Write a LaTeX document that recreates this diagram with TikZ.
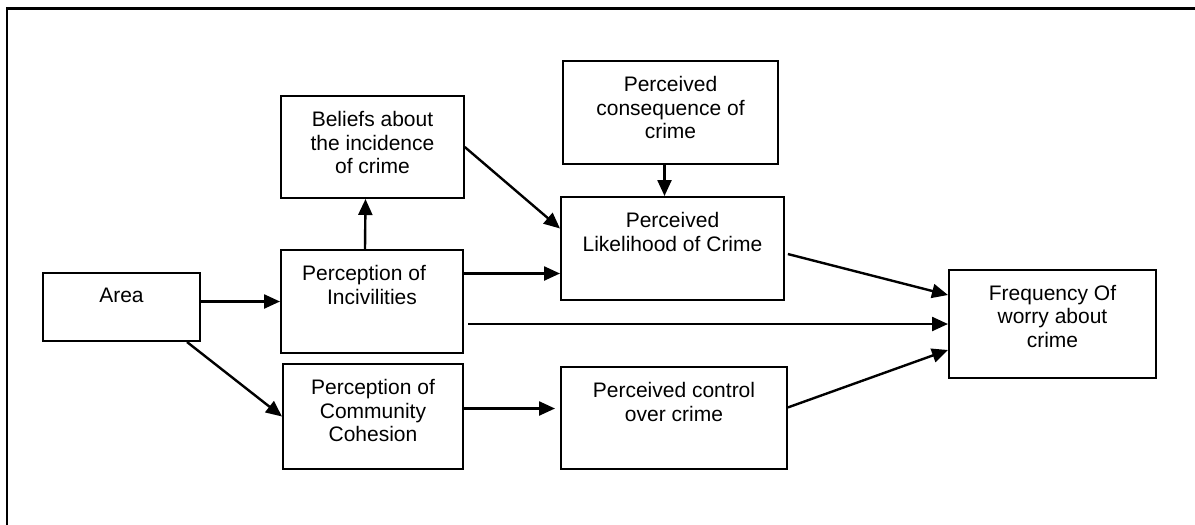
\documentclass[tikz,border=0pt]{standalone}
\usepackage{fontspec}
\setmainfont{Liberation Sans}
\usetikzlibrary{arrows.meta,positioning}

\begin{document}
\begin{tikzpicture}[x=0.5pt, y=-0.5pt,
  box/.style={draw, line width=1pt, inner sep=0pt},
  txt/.style={align=center, inner sep=0pt, font=\fontsize{10.5}{11.7}\selectfont},
  arr/.style={line width=1.2pt, -{Triangle[length=8pt,width=7pt]}}]
\useasboundingbox (0,0) rectangle (1195,525);

% Frame
\draw[line width=1.2pt] (6.7,525) -- (6.7,8.5) -- (1195,8.5);

% Boxes
\node[box, minimum width=78.5pt, minimum height=34pt] (area) at (121.5,307) {};
\node[box, minimum width=91pt, minimum height=51.5pt] (inc) at (372,301.5) {};
\node[box, minimum width=90pt, minimum height=52.5pt] (coh) at (373,416.5) {};
\node[box, minimum width=91.25pt, minimum height=51pt] (bel) at (372.5,147) {};
\node[box, minimum width=107.5pt, minimum height=51.5pt] (cons) at (670.5,112.5) {};
\node[box, minimum width=111.5pt, minimum height=51.5pt] (like) at (672.5,248.5) {};
\node[box, minimum width=113pt, minimum height=51pt] (ctrl) at (674,418) {};
\node[box, minimum width=103.5pt, minimum height=54.25pt] (freq) at (1052.5,324) {};

% Box texts
\node[txt, below=8pt of area.north] (areaT) {Area};
\node[txt, below=8pt of inc.north] (incT) {Perception of\hspace*{8pt}\\Incivilities};
\node[txt, below=8pt of coh.north] (cohT) {Perception of\\Community\\Cohesion};
\node[txt, below=8pt of bel.north] (belT) {Beliefs about\\the incidence\\of crime};
\node[txt, below=8pt of cons.north] (consT) {Perceived\\consequence of\\crime};
\node[txt, below=8pt of like.north] (likeT) {Perceived\\Likelihood of Crime};
\node[txt, below=8pt of ctrl.north] (ctrlT) {Perceived control\\over crime};
\node[txt, below=8pt of freq.north] (freqT) {Frequency Of\\worry about\\crime};

% Arrows
\draw[arr] (area.east |- inc.west) -- (inc.west);
\draw[arr] ([xshift=-7pt]area.south east) -- (coh.west);
\draw[arr] ([xshift=-3.5pt]inc.north) -- ([xshift=-3.5pt]bel.south);
\draw[arr] (bel.east) -- ([yshift=10pt]like.west);
\draw[arr] ([yshift=14pt]inc.east) -- ([yshift=-12.5pt]like.west);
\draw[arr, shorten <=2pt] (inc.east |- freq.west) -- (freq.west);
\draw[arr, shorten >=2.5pt] ([yshift=4pt]coh.east) -- ([yshift=4.75pt]ctrl.west);
\draw[arr] ([xshift=-3pt]cons.south) -- ([xshift=-4pt]like.north);
\draw[arr, shorten <=1.5pt] ([yshift=-2.4pt]like.east) -- ([yshift=14.5pt]freq.west);
\draw[arr] ([yshift=5.3pt]ctrl.east) -- ([yshift=-13pt]freq.west);
\end{tikzpicture}
\end{document}
